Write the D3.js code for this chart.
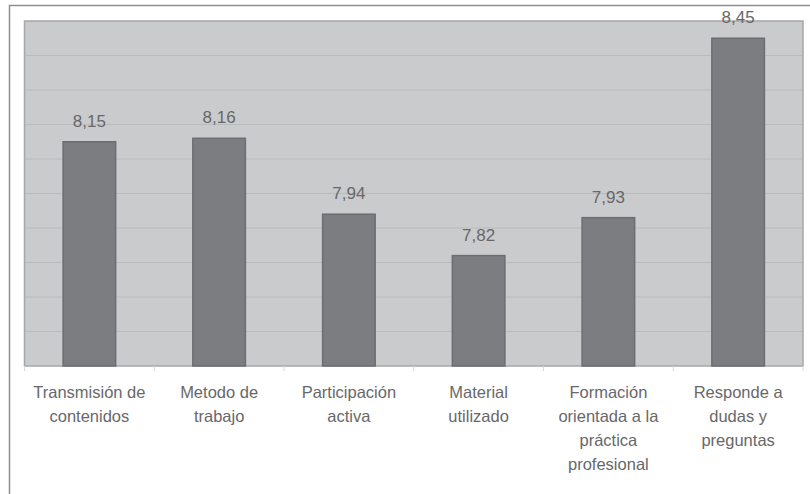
<!DOCTYPE html>
<html lang="es">
<head>
<meta charset="UTF-8">
<title>Valoración</title>
<script src="https://d3js.org/d3.v7.min.js"></script>
<style>
    body { margin: 0; background: #fff; }
    svg text { font-family: "Liberation Sans", Arial, sans-serif; fill: #68686a; }
</style>
</head>
<body>
<svg id="chart"></svg>
<script>
    // data
    const categories = [
        ["Transmisión de", "contenidos"],
        ["Metodo de", "trabajo"],
        ["Participación", "activa"],
        ["Material", "utilizado"],
        ["Formación", "orientada a la", "práctica", "profesional"],
        ["Responde a", "dudas y", "preguntas"]
    ];
    const values = [8.15, 8.16, 7.94, 7.82, 7.93, 8.45];
    const yDomain = [7.5, 8.5];
    const gridTicks = [7.6, 7.7, 7.8, 7.9, 8.0, 8.1, 8.2, 8.3, 8.4];

    const W = 810, H = 494;
    const plot = { left: 24.5, top: 21, right: 803, bottom: 366 };

    const svg = d3.select("#chart").attr("width", W).attr("height", H);

    // outer frame
    svg.append("rect")
        .attr("x", 9.5).attr("y", 5.5)
        .attr("width", 805).attr("height", 500)
        .attr("fill", "#fff")
        .attr("stroke", "#8e8e90")
        .attr("stroke-width", 1.5);

    const x = d3.scaleBand()
        .domain(d3.range(values.length))
        .range([plot.left, plot.right])
        .paddingInner(0.595)
        .paddingOuter(0.2975);

    const y = d3.scaleLinear().domain(yDomain).range([plot.bottom, plot.top]);

    // plot background
    svg.append("rect")
        .attr("x", plot.left).attr("y", plot.top)
        .attr("width", plot.right - plot.left)
        .attr("height", plot.bottom - plot.top)
        .attr("fill", "#cacbcd");

    // gridlines
    svg.append("g")
        .selectAll("line")
        .data(gridTicks)
        .join("line")
        .attr("x1", plot.left).attr("x2", plot.right)
        .attr("y1", d => y(d)).attr("y2", d => y(d))
        .attr("stroke", "#b9babc")
        .attr("stroke-width", 1);

    // plot border
    svg.append("rect")
        .attr("x", plot.left).attr("y", plot.top)
        .attr("width", plot.right - plot.left)
        .attr("height", plot.bottom - plot.top)
        .attr("fill", "none")
        .attr("stroke", "#a6a7a9")
        .attr("stroke-width", 1.5);

    // category ticks below the axis
    const band = (plot.right - plot.left) / values.length;
    svg.append("g")
        .selectAll("line")
        .data(d3.range(values.length + 1))
        .join("line")
        .attr("x1", i => plot.left + i * band).attr("x2", i => plot.left + i * band)
        .attr("y1", plot.bottom).attr("y2", plot.bottom + 5)
        .attr("stroke", "#d6d6d8");

    // bars
    svg.append("g")
        .selectAll("rect")
        .data(values)
        .join("rect")
        .attr("x", (d, i) => x(i))
        .attr("y", d => y(d))
        .attr("width", x.bandwidth())
        .attr("height", d => plot.bottom - y(d))
        .attr("fill", "#7c7d81")
        .attr("stroke", "#6c6d70")
        .attr("stroke-width", 1.5);

    // value labels
    svg.append("g")
        .selectAll("text")
        .data(values)
        .join("text")
        .attr("x", (d, i) => x(i) + x.bandwidth() / 2)
        .attr("y", d => y(d) - 15)
        .attr("text-anchor", "middle")
        .style("font-size", "17px")
        .text(d => d3.format(".2f")(d).replace(".", ","));

    // category labels
    const labels = svg.append("g")
        .selectAll("text")
        .data(categories)
        .join("text")
        .attr("x", (d, i) => x(i) + x.bandwidth() / 2)
        .attr("y", 398)
        .attr("text-anchor", "middle")
        .style("font-size", "16.5px");

    labels.selectAll("tspan")
        .data(d => d)
        .join("tspan")
        .attr("x", function() { return d3.select(this.parentNode).attr("x"); })
        .attr("dy", (d, i) => i === 0 ? 0 : 24)
        .text(d => d);
</script>
</body>
</html>
